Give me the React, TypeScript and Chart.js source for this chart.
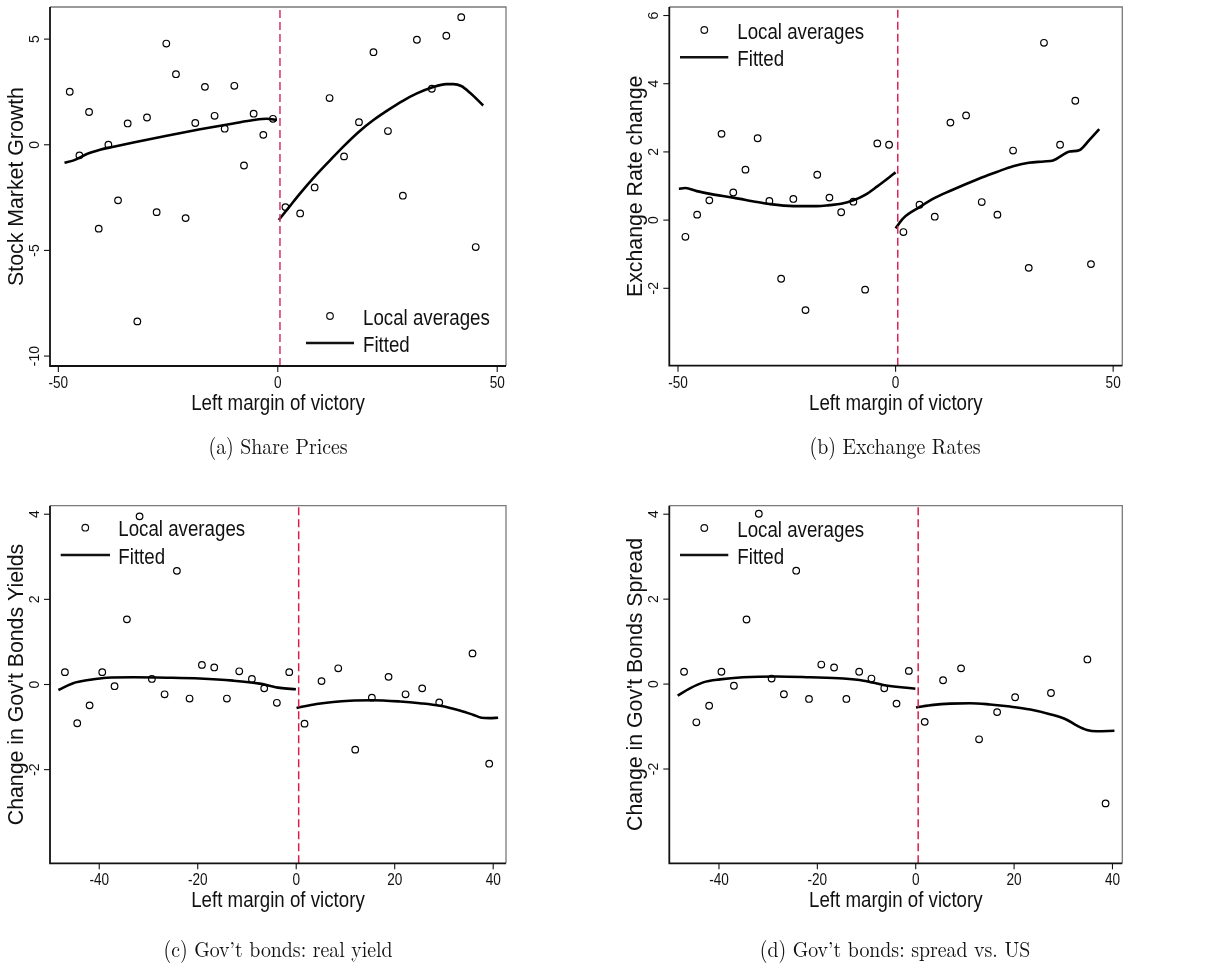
import React, { useEffect, useRef } from "react";
import { Chart, registerables } from "chart.js";

Chart.register(...registerables);

const SANS = "'Liberation Sans', Arial, Helvetica, sans-serif";
const SERIF = "'Latin Modern Roman', 'Liberation Serif', 'Times New Roman', serif";

// ---------- Panel (a) Share prices ----------
const aPtsX = [-47.4, -45.2, -43.0, -40.8, -38.6, -36.4, -34.2, -32.0, -29.8, -27.6, -25.4, -23.2, -21.0, -18.8, -16.6, -14.4, -12.1, -9.9, -7.7, -5.5, -3.3, -1.1, 1.75, 5.1, 8.4, 11.8, 15.1, 18.5, 21.8, 25.1, 28.5, 31.7, 35.1, 38.4, 41.8, 45.1];
const aPtsY = [2.51, -0.5, 1.55, -3.97, 0.0, -2.63, 1.01, -8.36, 1.29, -3.19, 4.79, 3.34, -3.47, 1.03, 2.74, 1.37, 0.76, 2.79, -0.98, 1.47, 0.47, 1.23, -2.95, -3.25, -2.02, 2.21, -0.55, 1.07, 4.38, 0.65, -2.41, 4.97, 2.65, 5.16, 6.04, -4.84];
const aFitLX = [-48.6, -46.5, -43.5, -40.5, -37.4, -32.9, -25.3, -17.7, -10.1, -5.5, -2.5, -0.2];
const aFitLY = [-0.85, -0.74, -0.44, -0.24, -0.09, 0.11, 0.43, 0.73, 1.01, 1.17, 1.23, 1.17];
const aFitRX = [0.23, 2.8, 5.1, 8.4, 11.8, 15.1, 18.5, 21.8, 25.1, 28.5, 31.7, 35.1, 38.4, 40.0, 41.8, 43.8, 46.8];
const aFitRY = [-3.56, -2.89, -2.3, -1.51, -0.76, -0.05, 0.62, 1.17, 1.64, 2.08, 2.43, 2.71, 2.87, 2.87, 2.78, 2.46, 1.86];
const aXTicks = [-50, 0, 50];
const aYTicks = [-10, -5, 0, 5];

// ---------- Panel (b) Exchange rates ----------
const bPtsX = [-48.3, -45.6, -42.8, -40.0, -37.3, -34.5, -31.7, -29.0, -26.3, -23.5, -20.7, -18.0, -15.2, -12.5, -9.7, -7.0, -4.2, -1.5, 1.8, 5.5, 9.0, 12.6, 16.2, 19.8, 23.4, 27.0, 30.6, 34.1, 37.8, 41.3, 44.9];
const bPtsY = [-0.49, 0.16, 0.58, 2.53, 0.81, 1.48, 2.4, 0.56, -1.72, 0.62, -2.64, 1.33, 0.66, 0.23, 0.54, -2.04, 2.25, 2.21, -0.35, 0.45, 0.1, 2.86, 3.07, 0.53, 0.16, 2.04, -1.4, 5.2, 2.21, 3.5, -1.29];
const bFitLX = [-49.8, -48.3, -45.7, -42.6, -37.3, -31.8, -29.0, -23.5, -18.0, -15.2, -12.5, -9.7, -7.0, -4.2, -1.5, 0];
const bFitLY = [0.92, 0.94, 0.85, 0.77, 0.66, 0.53, 0.47, 0.41, 0.41, 0.44, 0.48, 0.58, 0.74, 0.99, 1.25, 1.4];
const bFitRX = [0, 1.8, 5.5, 9.0, 12.6, 16.2, 19.8, 23.4, 27.0, 30.6, 34.1, 36.2, 40.0, 42.2, 44.6, 46.8];
const bFitRY = [-0.24, 0.06, 0.38, 0.65, 0.86, 1.06, 1.25, 1.42, 1.58, 1.68, 1.72, 1.75, 2.01, 2.05, 2.36, 2.67];
const bXTicks = [-50, 0, 50];
const bYTicks = [-2, 0, 2, 4, 6];

// ---------- Panel (c) Gov't bonds: real yield ----------
const cPtsX = [-46.97, -44.47, -41.96, -39.39, -36.89, -34.38, -31.81, -29.31, -26.73, -24.23, -21.66, -19.15, -16.65, -14.08, -11.57, -9.0, -6.5, -3.93, -1.42, 1.69, 5.14, 8.53, 11.98, 15.36, 18.75, 22.2, 25.58, 29.04, 35.8, 39.19];
const cPtsY = [0.29, -0.91, -0.49, 0.29, -0.04, 1.53, 3.95, 0.13, -0.23, 2.67, -0.33, 0.46, 0.4, -0.33, 0.31, 0.13, -0.09, -0.43, 0.29, -0.92, 0.08, 0.38, -1.53, -0.31, 0.18, -0.23, -0.09, -0.42, 0.73, -1.86];
const cFitLX = [-48.3, -45.3, -41.9, -38.5, -33.1, -26.3, -19.6, -12.8, -7.4, -3.3, -0.07];
const cFitLY = [-0.13, 0.03, 0.11, 0.16, 0.17, 0.16, 0.14, 0.09, 0.02, -0.08, -0.11];
const cFitRX = [0.07, 4.13, 7.51, 10.9, 15.4, 21.1, 25.1, 29.2, 33.2, 35.9, 37.6, 39.3, 41.0];
const cFitRY = [-0.55, -0.46, -0.41, -0.38, -0.37, -0.4, -0.44, -0.5, -0.61, -0.71, -0.78, -0.79, -0.78];
const cXTicks = [-40, -20, 0, 20, 40];
const cYTicks = [-2, 0, 2, 4];

// ---------- Panel (d) Gov't bonds: spread vs. US ----------
const dPtsX = [-47.1, -44.6, -42.0, -39.5, -36.96, -34.4, -31.9, -29.3, -26.8, -24.3, -21.7, -19.2, -16.6, -14.1, -11.5, -9.0, -6.4, -3.9, -1.4, 1.83, 5.56, 9.22, 12.88, 16.55, 20.21, 27.5, 34.9, 38.6];
const dPtsY = [0.29, -0.9, -0.51, 0.29, -0.04, 1.52, 4.01, 0.13, -0.24, 2.67, -0.35, 0.46, 0.39, -0.35, 0.29, 0.13, -0.1, -0.46, 0.31, -0.89, 0.09, 0.37, -1.3, -0.66, -0.31, -0.21, 0.58, -2.81];
const dFitLX = [-48.4, -45.9, -43.2, -39.8, -35.1, -28.3, -21.5, -14.7, -10.6, -6.6, -2.5, -0.07];
const dFitLY = [-0.27, -0.1, 0.04, 0.11, 0.16, 0.18, 0.16, 0.13, 0.08, -0.02, -0.08, -0.11];
const dFitRX = [0.07, 3.6, 7.0, 11.05, 15.1, 19.2, 23.3, 27.3, 30.7, 32.8, 34.8, 36.8, 40.4];
const dFitRY = [-0.55, -0.49, -0.46, -0.45, -0.48, -0.53, -0.6, -0.71, -0.84, -0.98, -1.08, -1.11, -1.1];
const dXTicks = [-40, -20, 0, 20, 40];
const dYTicks = [-2, 0, 2, 4];

const cutoffs = [0.5, 0.5, 0.5, 0.5];
const yTitles = ["Stock Market Growth", "Exchange Rate change", "Change in Gov't Bonds Yields", "Change in Gov't Bonds Spread"];
const xTitle = "Left margin of victory";
const captions = ["(a) Share Prices", "(b) Exchange Rates", "(c) Gov’t bonds: real yield", "(d) Gov’t bonds: spread vs. US"];
const legendLabels = ["Local averages", "Fitted"];

const zip = (xs: number[], ys: number[]) => xs.map((x, i) => ({ x, y: ys[i] }));

const NARROW = 0.85;

function hText(ctx: CanvasRenderingContext2D, text: string, x: number, y: number, align: CanvasTextAlign, sx: number) {
  ctx.save();
  ctx.translate(x, y);
  ctx.scale(sx, 1);
  ctx.textAlign = align;
  ctx.fillText(text, 0, 0);
  ctx.restore();
}

type Panel = {
  box: { left: number; top: number; width: number; height: number };
  pad: { left: number; top: number; right: number; bottom: number };
  xr: [number, number];
  yr: [number, number];
  xTicks: number[];
  yTicks: number[];
  ptsX: number[]; ptsY: number[];
  fLX: number[]; fLY: number[];
  fRX: number[]; fRY: number[];
  cutoff: number;
  yTitle: string;
  dash: string;
  legend: { mx: number; my: number; tx: number; lx1: number; lx2: number; ly: number };
  caption: { x: number; y: number; text: string };
};

const panels: Panel[] = [
  {
    box: { left: 0, top: 0, width: 607, height: 460 },
    pad: { left: 50, top: 7, right: 101, bottom: 94 },
    xr: [-51.9, 52], yr: [-10.47, 6.52],
    xTicks: aXTicks, yTicks: aYTicks,
    ptsX: aPtsX, ptsY: aPtsY, fLX: aFitLX, fLY: aFitLY, fRX: aFitRX, fRY: aFitRY,
    cutoff: cutoffs[0], yTitle: yTitles[0], dash: "#d4346a",
    legend: { mx: 330, my: 316, tx: 363, lx1: 306, lx2: 354, ly: 343 },
    caption: { x: 278, y: 447, text: captions[0] },
  },
  {
    box: { left: 607, top: 0, width: 607, height: 460 },
    pad: { left: 62.3, top: 7, right: 91.7, bottom: 94.3 },
    xr: [-52, 52.1], yr: [-4.27, 6.25],
    xTicks: bXTicks, yTicks: bYTicks,
    ptsX: bPtsX, ptsY: bPtsY, fLX: bFitLX, fLY: bFitLY, fRX: bFitRX, fRY: bFitRY,
    cutoff: cutoffs[1], yTitle: yTitles[1], dash: "#d92658",
    legend: { mx: 704.3, my: 30, tx: 737.3, lx1: 680, lx2: 728.3, ly: 57.3 },
    caption: { x: 895, y: 447, text: captions[1] },
  },
  {
    box: { left: 0, top: 460, width: 607, height: 515 },
    pad: { left: 50, top: 45.7, right: 101, bottom: 111.7 },
    xr: [-50, 42.6], yr: [-4.2, 4.2],
    xTicks: cXTicks, yTicks: cYTicks,
    ptsX: cPtsX, ptsY: cPtsY, fLX: cFitLX, fLY: cFitLY, fRX: cFitRX, fRY: cFitRY,
    cutoff: cutoffs[2], yTitle: yTitles[2], dash: "#dc1c48",
    legend: { mx: 85.3, my: 527.7, tx: 118.3, lx1: 60.7, lx2: 110, ly: 555 },
    caption: { x: 278, y: 950, text: captions[2] },
  },
  {
    box: { left: 607, top: 460, width: 607, height: 515 },
    pad: { left: 62.3, top: 45.7, right: 91.7, bottom: 111.7 },
    xr: [-50.1, 42.0], yr: [-4.22, 4.2],
    xTicks: dXTicks, yTicks: dYTicks,
    ptsX: dPtsX, ptsY: dPtsY, fLX: dFitLX, fLY: dFitLY, fRX: dFitRX, fRY: dFitRY,
    cutoff: cutoffs[3], yTitle: yTitles[3], dash: "#dc1c48",
    legend: { mx: 704.3, my: 528, tx: 737.3, lx1: 680, lx2: 728.3, ly: 555 },
    caption: { x: 895, y: 950, text: captions[3] },
  },
];

function PanelChart({ p }: { p: Panel }) {
  const ref = useRef<HTMLCanvasElement | null>(null);
  useEffect(() => {
    if (!ref.current) return;
    const ox = p.box.left;
    const oy = p.box.top;
    const decor = {
      id: "decor",
      afterDatasetsDraw(chart: any) {
        const ctx = chart.ctx as CanvasRenderingContext2D;
        const { left, right, top, bottom } = chart.chartArea;
        const xs = chart.scales.x;
        const ys = chart.scales.y;
        ctx.save();
        // plot region border (top/right grey)
        ctx.strokeStyle = "#7a7a7a";
        ctx.lineWidth = 1.3;
        ctx.beginPath();
        ctx.moveTo(left, top);
        ctx.lineTo(right, top);
        ctx.lineTo(right, bottom);
        ctx.stroke();
        // axes
        ctx.strokeStyle = "#111";
        ctx.lineWidth = 1.8;
        ctx.beginPath();
        ctx.moveTo(left, top);
        ctx.lineTo(left, bottom);
        ctx.lineTo(right, bottom);
        ctx.stroke();
        // ticks
        ctx.lineWidth = 1.1;
        ctx.fillStyle = "#111";
        ctx.textBaseline = "alphabetic";
        ctx.font = `16px ${SANS}`;
        for (const t of p.xTicks) {
          const px = xs.getPixelForValue(t);
          ctx.beginPath();
          ctx.moveTo(px, bottom);
          ctx.lineTo(px, bottom + 6);
          ctx.stroke();
          hText(ctx, String(t), px, bottom + 22, "center", NARROW);
        }
        ctx.font = `14px ${SANS}`;
        ctx.textAlign = "center";
        for (const t of p.yTicks) {
          const py = ys.getPixelForValue(t);
          ctx.beginPath();
          ctx.moveTo(left, py);
          ctx.lineTo(left - 6, py);
          ctx.stroke();
          ctx.save();
          ctx.translate(left - 11, py);
          ctx.rotate(-Math.PI / 2);
          ctx.fillText(String(t), 0, 0);
          ctx.restore();
        }
        // titles
        ctx.font = `22px ${SANS}`;
        hText(ctx, xTitle, (left + right) / 2, bottom + 44, "center", NARROW);
        ctx.save();
        ctx.font = `21.3px ${SANS}`;
        ctx.translate(left - 33, (top + bottom) / 2);
        ctx.rotate(-Math.PI / 2);
        ctx.textAlign = "center";
        ctx.textBaseline = "middle";
        ctx.fillText(p.yTitle, 0, 0);
        ctx.restore();
        // legend
        const L = p.legend;
        ctx.lineWidth = 1.2;
        ctx.beginPath();
        ctx.arc(L.mx - ox, L.my - oy, 3.3, 0, Math.PI * 2);
        ctx.stroke();
        ctx.lineWidth = 2.6;
        ctx.beginPath();
        ctx.moveTo(L.lx1 - ox, L.ly - oy);
        ctx.lineTo(L.lx2 - ox, L.ly - oy);
        ctx.stroke();
        ctx.font = `22px ${SANS}`;
        hText(ctx, legendLabels[0], L.tx - ox, L.my - oy + 8.5, "left", NARROW);
        hText(ctx, legendLabels[1], L.tx - ox, L.ly - oy + 8.5, "left", NARROW);
        // caption
        ctx.font = `22px ${SERIF}`;
        ctx.textBaseline = "middle";
        hText(ctx, p.caption.text, p.caption.x - ox, p.caption.y - oy, "center", 0.9);
        ctx.restore();
      },
    };
    const chart = new Chart(ref.current, {
      type: "scatter",
      data: {
        datasets: [
          {
            data: [
              { x: p.cutoff, y: p.yr[0] },
              { x: p.cutoff, y: p.yr[1] },
            ],
            showLine: true,
            pointRadius: 0,
            borderColor: p.dash,
            borderWidth: 1.5,
            borderDash: [8, 4],
          },
          {
            data: zip(p.ptsX, p.ptsY),
            showLine: false,
            pointRadius: 3.3,
            pointBorderWidth: 1.2,
            pointBorderColor: "#000",
            pointBackgroundColor: "rgba(0,0,0,0)",
          },
          {
            data: zip(p.fLX, p.fLY),
            showLine: true,
            pointRadius: 0,
            borderColor: "#000",
            borderWidth: 2.6,
            cubicInterpolationMode: "monotone",
          },
          {
            data: zip(p.fRX, p.fRY),
            showLine: true,
            pointRadius: 0,
            borderColor: "#000",
            borderWidth: 2.6,
            cubicInterpolationMode: "monotone",
          },
        ],
      } as any,
      options: {
        animation: false,
        responsive: false,
        maintainAspectRatio: false,
        events: [],
        layout: { padding: p.pad },
        plugins: { legend: { display: false }, tooltip: { enabled: false } },
        scales: {
          x: { type: "linear", min: p.xr[0], max: p.xr[1], display: false },
          y: { type: "linear", min: p.yr[0], max: p.yr[1], display: false },
        },
      } as any,
      plugins: [decor],
    });
    return () => chart.destroy();
  }, [p]);
  return (
    <canvas
      ref={ref}
      width={p.box.width}
      height={p.box.height}
      style={{ position: "absolute", left: p.box.left, top: p.box.top, width: p.box.width, height: p.box.height }}
    />
  );
}

export default function App() {
  return (
    <div style={{ position: "absolute", left: 0, top: 0, width: 1214, height: 975, background: "#fff", overflow: "hidden" }}>
      {panels.map((p, i) => (
        <PanelChart key={i} p={p} />
      ))}
    </div>
  );
}
